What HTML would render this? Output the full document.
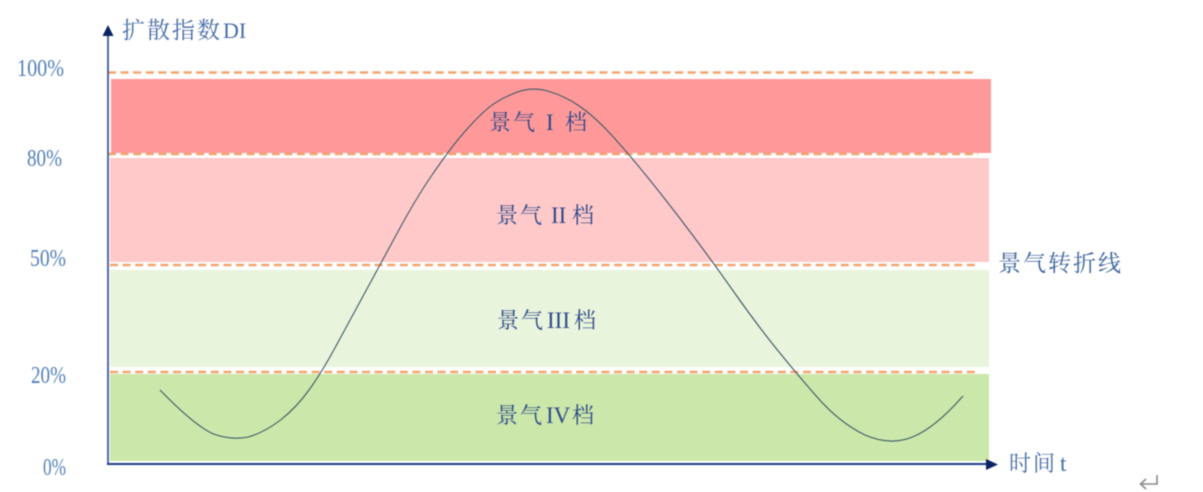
<!DOCTYPE html>
<html><head><meta charset="utf-8">
<style>
html,body{margin:0;padding:0;background:#fff;width:1203px;height:492px;overflow:hidden}
svg{display:block;filter:blur(0.4px)}
text{font-family:"Liberation Serif","Noto Serif CJK SC",serif}
.y{fill:#5480bb;font-size:24px}
.l{fill:#2f4a8a;font-size:22px}
.d{stroke:#f4a46e;stroke-width:2.4;stroke-dasharray:8 4.6;fill:none}
</style></head><body>
<svg width="1203" height="492" viewBox="0 0 1203 492" xmlns="http://www.w3.org/2000/svg">
<rect width="1203" height="492" fill="#fff"/>
<rect x="111" y="79" width="880" height="74" fill="#ff9999"/>
<rect x="110" y="158" width="879" height="104" fill="#ffc9ca"/>
<rect x="110" y="270" width="879" height="97" fill="#e9f4dc"/>
<rect x="110" y="374" width="879" height="87" fill="#cbe7aa"/>

<line x1="108" y1="72.5" x2="976" y2="72.5" class="d"/>
<line x1="110" y1="155" x2="990" y2="155" stroke="#fff" stroke-width="3"/>
<line x1="108" y1="154" x2="978" y2="154" class="d"/>
<line x1="110" y1="265" x2="978" y2="265" class="d"/>
<line x1="110" y1="372" x2="979" y2="372" class="d"/>

<path d="M160 390 Q195 426 213.500 434 Q232 440.500 248.500 437 Q265 432 280.500 420 Q296 408 309 390 Q322 372 336 346 Q350 320 365 292.500 Q380 265 397.500 232.500 Q415 200 431 176.500 Q447 153 458.500 139 Q470 125 482.500 113 Q495 101 512.500 94 Q530 86 547.500 91 Q565 96 580 106.500 Q595 117 611.500 135 Q628 153 649 179 Q670 205 692.500 235 Q715 265 735 293.500 Q755 322 775 347 Q795 372 817.500 397.500 Q840 423 865 435 Q890 446 912.500 437 Q935 428 963 396" fill="none" stroke="#3d5a66" stroke-width="1.100"/>

<line x1="108" y1="33" x2="108" y2="465" stroke="#3f5c9c" stroke-width="1.8"/>
<path d="M102.500 36 L108 25 L113.500 36 Z" fill="#0a2463"/>
<line x1="107" y1="464" x2="988" y2="464" stroke="#1f3d85" stroke-width="2"/>
<path d="M986 459 L998 464.500 L986 470 Z" fill="#0a2463"/>

<text x="122" y="38" fill="#4a6ea8" font-size="23" letter-spacing="2">扩散指数<tspan x="223" font-size="22" letter-spacing="0">DI</tspan></text>
<text class="y" x="17" y="76" textLength="47" lengthAdjust="spacingAndGlyphs">100%</text>
<text class="y" x="27" y="166" textLength="35" lengthAdjust="spacingAndGlyphs">80%</text>
<text class="y" x="30" y="266" textLength="36" lengthAdjust="spacingAndGlyphs">50%</text>
<text class="y" x="31" y="383" textLength="35" lengthAdjust="spacingAndGlyphs">20%</text>
<text class="y" x="43" y="475" textLength="23" lengthAdjust="spacingAndGlyphs">0%</text>

<text class="l" x="489" y="130" letter-spacing="2">景气<tspan x="546" font-size="23">I</tspan><tspan x="565">档</tspan></text>
<text class="l" x="496" y="223" letter-spacing="2">景气<tspan x="551" font-size="23" letter-spacing="0">II</tspan><tspan x="572">档</tspan></text>
<text class="l" x="497" y="328" letter-spacing="2">景气<tspan x="547" font-size="23" letter-spacing="0">III</tspan><tspan x="574">档</tspan></text>
<text class="l" x="496" y="423" letter-spacing="2">景气<tspan x="546" font-size="23" letter-spacing="0">IV</tspan><tspan x="572">档</tspan></text>

<text x="998" y="271" fill="#3d639f" font-size="23" letter-spacing="2">景气转折线</text>
<text x="1009" y="471" fill="#4a6ea8" font-size="22" letter-spacing="2">时间<tspan x="1060" font-size="23">t</tspan></text>

<path d="M1157 475 V484 H1141 M1146 479 L1140.500 484 L1146 489" fill="none" stroke="#8a8a8a" stroke-width="1.600"/>
</svg>
</body></html>
